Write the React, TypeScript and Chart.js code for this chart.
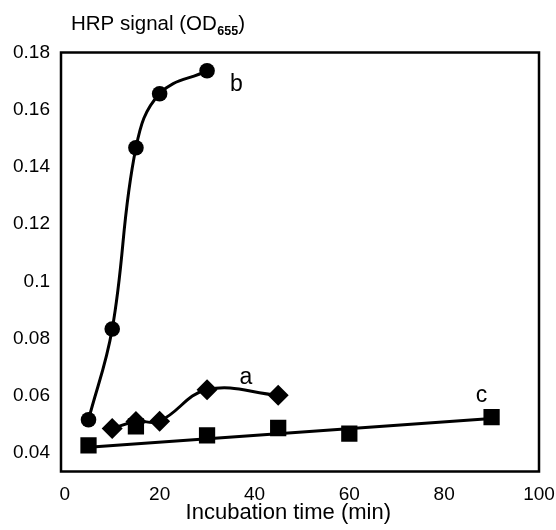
import React, { useEffect, useRef } from "react";
import { Chart, registerables } from "chart.js";

Chart.register(...registerables);

// ---- data ----
const seriesBX = [5, 10, 15, 20, 30];
const seriesBY = [0.0517, 0.0834, 0.1467, 0.1656, 0.1736];

const seriesAX = [10, 15, 20, 30, 45];
const seriesAY = [0.0486, 0.0511, 0.0512, 0.0622, 0.0602];

const seriesCX = [5, 15, 30, 45, 60, 90];
const seriesCY = [0.0427, 0.0494, 0.0462, 0.0488, 0.0468, 0.0526];

const trendCX = [5, 90];
const trendCY = [0.0421, 0.0521];

const xTicks = [0, 20, 40, 60, 80, 100];
const yTicks = [0.04, 0.06, 0.08, 0.1, 0.12, 0.14, 0.16, 0.18];

const curveLabels = ["a", "b", "c"];
const curveLabelX = [38.2, 36.2, 87.9];
const curveLabelY = [0.0643, 0.1664, 0.0579];

const yTitleMain = "HRP signal (OD";
const yTitleSub = "655";
const yTitleEnd = ")";
const xTitle = "Incubation time (min)";

const FONT = '"Liberation Sans", Arial, sans-serif';

const toPts = (xs: number[], ys: number[]) => xs.map((x, i) => ({ x, y: ys[i] }));

const boxPlugin = {
  id: "boxPlugin",
  beforeDatasetsDraw(chart: any) {
    const { ctx, chartArea } = chart;
    ctx.save();
    ctx.strokeStyle = "#000";
    ctx.lineWidth = 2.5;
    ctx.strokeRect(chartArea.left, chartArea.top, chartArea.right - chartArea.left, chartArea.bottom - chartArea.top);
    ctx.restore();
  },
};

const textPlugin = {
  id: "textPlugin",
  afterDraw(chart: any) {
    const { ctx } = chart;
    const xs = chart.scales.x;
    const ys = chart.scales.y;
    ctx.save();
    ctx.fillStyle = "#000";
    // curve labels
    ctx.font = `23px ${FONT}`;
    ctx.textAlign = "center";
    ctx.textBaseline = "alphabetic";
    curveLabels.forEach((t, i) => {
      ctx.fillText(t, xs.getPixelForValue(curveLabelX[i]), ys.getPixelForValue(curveLabelY[i]));
    });
    // y title
    ctx.textAlign = "left";
    let x = 71;
    ctx.font = `20.5px ${FONT}`;
    ctx.fillText(yTitleMain, x, 29.5);
    x += ctx.measureText(yTitleMain).width + 0.5;
    ctx.font = `bold 12.5px ${FONT}`;
    ctx.fillText(yTitleSub, x, 34.5);
    x += ctx.measureText(yTitleSub).width;
    ctx.font = `20.5px ${FONT}`;
    ctx.fillText(yTitleEnd, x, 29.5);
    // x title
    ctx.font = `22px ${FONT}`;
    ctx.textAlign = "center";
    ctx.fillText(xTitle, 288.3, 519.3);
    ctx.restore();
  },
};

const zeroPad = (s: any) => {
  s.paddingLeft = 0;
  s.paddingRight = 0;
  s.paddingTop = 0;
  s.paddingBottom = 0;
};

export default function App() {
  const ref = useRef<HTMLCanvasElement | null>(null);
  useEffect(() => {
    if (!ref.current) return;
    const chart = new Chart(ref.current, {
      type: "line",
      data: {
        datasets: [
          {
            label: "b",
            data: toPts(seriesBX, seriesBY),
            borderColor: "#000",
            backgroundColor: "#000",
            borderWidth: 3,
            tension: 0.4,
            pointStyle: "circle",
            pointRadius: 7.8,
            pointBorderWidth: 0,
            fill: false,
          },
          {
            label: "a",
            data: toPts(seriesAX, seriesAY),
            borderColor: "#000",
            backgroundColor: "#000",
            borderWidth: 3,
            tension: 0.4,
            pointStyle: "rectRot",
            pointRadius: 10.5,
            pointBorderWidth: 0,
            fill: false,
          },
          {
            label: "c",
            data: toPts(seriesCX, seriesCY),
            borderColor: "#000",
            backgroundColor: "#000",
            showLine: false,
            pointStyle: "rect",
            pointRadius: 11.5,
            pointBorderWidth: 0,
          },
          {
            label: "c trend",
            data: toPts(trendCX, trendCY),
            borderColor: "#000",
            backgroundColor: "#000",
            borderWidth: 3,
            pointRadius: 0,
            tension: 0,
            fill: false,
          },
        ],
      },
      options: {
        animation: false,
        responsive: false,
        devicePixelRatio: 1,
        layout: { padding: { left: 0, top: 52.5, right: 17, bottom: 0 } },
        plugins: { legend: { display: false }, tooltip: { enabled: false }, title: { display: false } },
        scales: {
          x: {
            type: "linear",
            min: -0.8,
            max: 100,
            grid: { display: false, drawTicks: false },
            border: { display: false },
            afterBuildTicks: (s: any) => {
              s.ticks = xTicks.map((v) => ({ value: v }));
            },
            afterFit: (s: any) => {
              s.height = 58.5;
              zeroPad(s);
            },
            ticks: {
              color: "#000",
              font: { family: FONT, size: 19 },
              padding: 12,
              maxRotation: 0,
              autoSkip: false,
              callback: (v: any) => String(v),
            },
          },
          y: {
            type: "linear",
            min: 0.0336,
            max: 0.18,
            grid: { display: false, drawTicks: false },
            border: { display: false },
            afterBuildTicks: (s: any) => {
              s.ticks = yTicks.map((v) => ({ value: v }));
            },
            afterFit: (s: any) => {
              s.width = 61;
              zeroPad(s);
            },
            ticks: {
              color: "#000",
              font: { family: FONT, size: 19 },
              padding: 11,
              autoSkip: false,
              callback: (v: any) => String(+Number(v).toFixed(2)),
            },
          },
        },
      },
      plugins: [boxPlugin, textPlugin],
    } as any);
    return () => chart.destroy();
  }, []);
  return (
    <div style={{ position: "fixed", left: 0, top: 0, width: 556, height: 530, background: "#fff" }}>
      <canvas ref={ref} width={556} height={530} style={{ width: 556, height: 530, display: "block" }} />
    </div>
  );
}
